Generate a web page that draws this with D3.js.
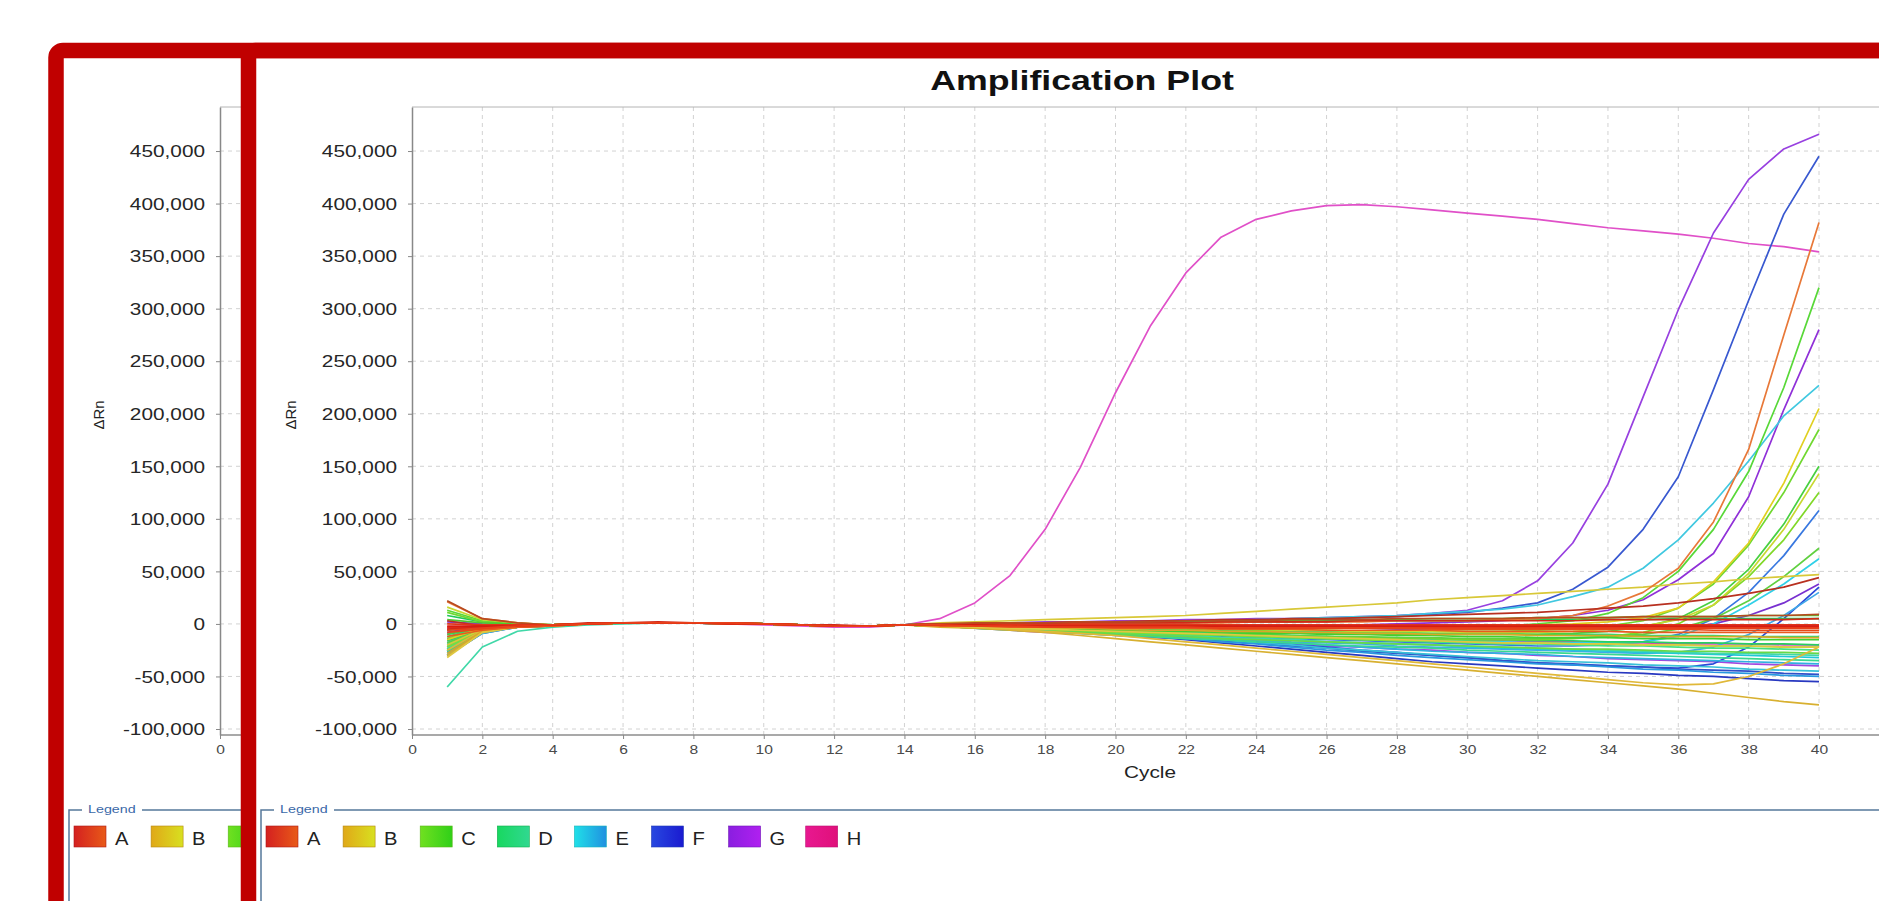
<!DOCTYPE html>
<html>
<head>
<meta charset="utf-8">
<script src="https://cdnjs.cloudflare.com/ajax/libs/d3/7.8.5/d3.min.js"></script>
<style>
    body { margin: 0; background: #fff; }
    svg { display: block; }
    text { font-family: "Liberation Sans", Arial, sans-serif; }
</style>
</head>
<body>
<script>
// ΔRn per well, in thousands, cycles 1..40
var cycles = [1,2,3,4,5,6,7,8,9,10,11,12,13,14,15,16,17,18,19,20,21,22,23,24,25,26,27,28,29,30,31,32,33,34,35,36,37,38,39,40];

var rowA = [
    [21,5,1, -1,0,1,1,1,1,0,-1,-2,-2,-1, -1,-1,0,0,0,1, 1,1,1,2,2,2,2,3,3,3, 4,5,8,17,30,53,97,166,275,382],
    [3,-2,-2, -1,0,1,1,1,1,0,-1,-2,-2,-1, 0,0,1,1,2,2, 3,3,4,4,5,5,6,7,8,9, 10,11,13,15,17,20,24,29,35,44],
    [-3,-4,-3, -1,0,1,1,1,0,0,-1,-2,-2,-1, -1,-1,-1,-2,-2,-2, -2,-2,-2,-3,-3,-3,-3,-3,-3,-3, -3,-3,-3,-3,-3,-3,-3,-3,-3,-3],
    [-8,-5,-3, -2,0,1,1,1,1,0,-1,-2,-2,-1, -1,-2,-2,-2,-3,-3, -3,-3,-3,-4,-4,-4,-4,-4,-5,-5, -5,-5,-5,-5,-5,-5,-6,-6,-6,-6],
    [-5,-3,-2, -1,1,1,2,1,1,0,-1,-1,-2,-1, 0,0,0,1,1,1, 1,1,2,2,2,2,3,3,3,3, 3,3,3,4,4,4,4,4,4,5],
    [-12,-6,-3, -2,0,1,1,1,0,0,-1,-2,-2,-1, -2,-2,-3,-3,-3,-4, -4,-4,-5,-5,-5,-6,-6,-6,-6,-7, -7,-7,-7,-7,-8,-8,-8,-8,-8,-8],
    [22,5,1, -1,0,1,1,1,1,0,-1,-2,-2,-1, 0,1,1,1,2,2, 2,3,3,3,4,4,4,5,5,5, 5,6,6,6,7,7,7,8,8,9],
    [0,-1,-1, -1,0,1,1,1,1,0,-1,-2,-2,-1, -1,-1,-1,-1,-1,-1, -1,-1,-1,-1,-1,-1,-1,-1,-1,-1, -1,-1,-1,-1,-1,-1,-1,-1,-1,-1],
    [-2,-2,-2, -1,0,1,1,1,0,0,-1,-2,-2,-1, -1,-1,-2,-2,-2,-2, -2,-2,-2,-2,-2,-2,-2,-2,-2,-2, -2,-2,-2,-2,-2,-2,-2,-2,-2,-2],
    [-6,-4,-2, -1,0,1,1,1,1,0,-1,-2,-2,-1, -1,-2,-2,-3,-3,-3, -3,-3,-4,-4,-4,-4,-4,-4,-4,-4, -4,-4,-4,-4,-4,-4,-4,-4,-4,-4]
];
var rowB = [
    [-20,-5,-2, -1,0,1,1,1,1,0,-1,-2,-2,-1, 1,2,3,4,5,6, 7,8,10,12,14,16,18,20,23,25, 27,29,31,33,35,38,40,43,45,47],
    [-30,-8,-3, -2,0,1,1,1,0,0,-1,-2,-2,-1, -3,-4,-6,-8,-11,-14, -17,-20,-23,-26,-29,-32,-35,-38,-41,-44, -47,-50,-53,-56,-59,-62,-66,-70,-74,-77],
    [-25,-6,-3, -1,0,1,1,1,1,0,-1,-2,-2,-1, -2,-3,-5,-7,-9,-11, -14,-17,-20,-23,-26,-29,-32,-35,-38,-41, -44,-47,-50,-53,-56,-58,-57,-50,-38,-22],
    [-15,-4,-2, -1,0,1,1,1,1,0,-1,-2,-2,-1, -1,-1,-1,-2,-2,-2, -2,-3,-3,-3,-3,-3,-3,-3,-3,-2, -2,-1,0,2,6,15,40,77,134,205],
    [16,4,1, -1,0,1,1,1,1,0,-1,-2,-2,-1, -1,-1,-2,-2,-3,-3, -4,-4,-5,-5,-6,-6,-7,-7,-7,-8, -8,-8,-7,-5,-2,4,18,48,90,143],
    [-28,-7,-3, -1,0,1,1,1,1,0,-1,-2,-2,-1, -1,-2,-3,-4,-4,-5, -6,-6,-7,-7,-8,-8,-9,-9,-10,-10, -10,-11,-11,-11,-12,-12,-12,-12,-13,-13],
    [-32,-8,-3, -2,0,1,1,1,0,0,-1,-2,-2,-1, -2,-3,-4,-5,-6,-7, -8,-9,-10,-11,-12,-13,-14,-15,-16,-17, -18,-18,-19,-19,-20,-20,-21,-21,-22,-22]
];
var rowC = [
    [13,3,0, -1,0,1,1,1,1,0,-1,-2,-2,-1, -1,-1,-2,-2,-2,-3, -3,-3,-4,-4,-4,-4,-4,-4,-4,-3, -2,0,3,10,25,50,90,145,225,320],
    [11,2,0, -1,0,1,1,1,1,0,-1,-2,-2,-1, -1,-2,-2,-3,-3,-4, -4,-5,-5,-6,-6,-6,-7,-7,-7,-7, -7,-6,-5,-2,3,15,38,75,125,185],
    [-10,-3,-1, -1,0,1,1,1,1,0,-1,-2,-2,-1, -1,-2,-3,-4,-4,-5, -6,-6,-7,-8,-8,-9,-9,-10,-10,-10, -10,-10,-9,-7,-3,5,22,52,95,150],
    [-14,-4,-2, -1,0,1,1,1,1,0,-1,-2,-2,-1, -2,-3,-4,-5,-6,-7, -8,-9,-10,-11,-12,-12,-13,-14,-14,-15, -15,-15,-14,-12,-8,0,18,45,80,125],
    [-18,-5,-2, -1,0,1,1,1,1,0,-1,-2,-2,-1, -2,-3,-4,-5,-6,-7, -8,-9,-10,-10,-11,-12,-12,-13,-13,-14, -14,-14,-13,-12,-10,-5,5,22,45,72],
    [-6,-2,-1, -1,0,1,1,1,1,0,-1,-2,-2,-1, -1,-2,-3,-4,-5,-6, -7,-7,-8,-9,-9,-10,-10,-11,-11,-12, -12,-13,-13,-13,-14,-14,-14,-15,-15,-15],
    [-22,-6,-2, -1,0,1,1,1,1,0,-1,-2,-2,-1, -2,-3,-4,-5,-7,-8, -9,-10,-11,-12,-13,-14,-15,-16,-16,-17, -18,-18,-19,-19,-20,-20,-21,-21,-22,-22],
    [4,1,0, -1,0,1,1,1,1,0,-1,-2,-2,-1, 0,0,1,1,1,2, 2,2,3,3,3,4,4,4,5,5, 5,6,6,6,7,7,7,8,8,8],
    [-20,-5,-2, -1,0,1,1,1,1,0,-1,-2,-2,-1, -2,-4,-5,-7,-8,-10, -11,-12,-14,-15,-16,-17,-18,-19,-20,-21, -22,-23,-24,-24,-25,-26,-26,-27,-27,-28]
];
var rowD = [
    [-60,-22,-7, -3,-1,0,1,1,0,0,-1,-2,-2,-1, -2,-3,-4,-6,-7,-9, -10,-11,-13,-14,-15,-17,-18,-19,-20,-21, -22,-23,-24,-25,-26,-27,-28,-28,-29,-30],
    [-12,-3,-1, -1,0,1,1,1,1,0,-1,-2,-2,-1, -1,-2,-2,-3,-4,-4, -5,-5,-6,-6,-7,-7,-8,-8,-9,-9, -9,-10,-10,-10,-11,-11,-11,-12,-12,-12],
    [-16,-4,-2, -1,0,1,1,1,1,0,-1,-2,-2,-1, -2,-3,-4,-5,-6,-7, -8,-9,-10,-10,-11,-12,-13,-13,-14,-15, -15,-16,-16,-17,-17,-18,-18,-19,-19,-20],
    [-26,-7,-3, -2,0,1,1,1,0,0,-1,-2,-2,-1, -2,-4,-6,-7,-9,-11, -12,-14,-15,-17,-18,-20,-21,-22,-23,-25, -26,-27,-28,-29,-30,-31,-32,-33,-34,-35],
    [8,2,0, -1,0,1,1,1,1,0,-1,-2,-2,-1, 0,0,0,1,1,1, 1,2,2,2,2,3,3,3,3,3, 4,4,4,4,4,5,5,5,5,5],
    [-24,-6,-2, -1,0,1,1,1,1,0,-1,-2,-2,-1, -1,-2,-4,-5,-6,-8, -9,-10,-11,-12,-13,-14,-15,-16,-17,-18, -19,-19,-20,-21,-21,-22,-23,-23,-24,-25]
];
var rowE = [
    [-22,-6,-2, -1,0,1,1,1,1,0,-1,-2,-2,-1, 0,0,1,1,1,2, 2,3,3,4,5,6,7,8,10,12, 14,18,26,35,53,80,115,155,198,227],
    [-18,-5,-2, -1,0,1,1,1,1,0,-1,-2,-2,-1, -1,-2,-3,-4,-5,-6, -7,-8,-9,-10,-11,-12,-13,-14,-15,-16, -17,-18,-18,-18,-17,-12,0,18,38,62],
    [-28,-8,-3, -2,0,1,1,1,0,0,-1,-2,-2,-1, -2,-3,-4,-5,-7,-8, -10,-12,-14,-16,-18,-20,-22,-24,-26,-27, -28,-29,-31,-32,-33,-34,-35,-36,-37,-38],
    [-30,-9,-3, -2,0,1,1,1,0,0,-1,-2,-2,-1, -2,-3,-4,-6,-7,-9, -11,-13,-15,-18,-20,-23,-25,-27,-29,-31, -33,-35,-36,-37,-39,-40,-41,-43,-44,-45],
    [-26,-8,-3, -2,0,1,1,1,0,0,-1,-2,-2,-1, -2,-3,-5,-6,-8,-10, -12,-14,-17,-19,-22,-25,-27,-30,-32,-34, -36,-38,-39,-41,-43,-44,-46,-47,-49,-50],
    [-20,-6,-2, -1,0,1,1,1,1,0,-1,-2,-2,-1, -2,-4,-5,-7,-8,-10, -11,-13,-14,-15,-17,-18,-19,-21,-22,-23, -24,-25,-26,-27,-28,-27,-22,-10,8,30],
    [-24,-7,-2, -1,0,1,1,1,1,0,-1,-2,-2,-1, -2,-3,-5,-6,-7,-9, -10,-11,-13,-14,-15,-17,-18,-19,-20,-22, -23,-24,-25,-26,-27,-28,-29,-30,-31,-32]
];
var rowF = [
    [-18,-5,-2, -1,0,1,1,1,1,0,-1,-2,-2,-1, 0,0,1,1,1,2, 2,2,3,3,4,5,6,7,9,11, 15,20,33,54,90,140,223,308,390,445],
    [-22,-6,-2, -1,0,1,1,1,1,0,-1,-2,-2,-1, -2,-3,-4,-6,-7,-8, -9,-11,-12,-13,-14,-15,-16,-17,-18,-19, -20,-21,-21,-20,-17,-10,5,30,65,108],
    [-26,-7,-3, -2,0,1,1,1,0,0,-1,-2,-2,-1, -2,-3,-4,-5,-7,-8, -10,-12,-15,-17,-20,-22,-25,-27,-30,-32, -35,-37,-39,-40,-41,-42,-38,-22,5,35],
    [-24,-7,-3, -2,0,1,1,1,0,0,-1,-2,-2,-1, -2,-3,-4,-6,-7,-9, -11,-13,-16,-18,-21,-23,-26,-28,-30,-32, -35,-37,-38,-40,-41,-43,-44,-45,-47,-48],
    [-30,-9,-3, -2,0,1,1,1,0,0,-1,-2,-2,-1, -2,-3,-5,-6,-8,-10, -12,-15,-18,-21,-24,-27,-30,-33,-36,-38, -40,-42,-44,-46,-47,-49,-50,-52,-54,-55],
    [-6,-2,-1, -1,0,1,1,1,1,0,-1,-2,-2,-1, -1,-1,-1,-2,-2,-2, -2,-2,-2,-2,-3,-3,-3,-3,-3,-3, -3,-3,-3,-3,-3,-3,-3,-3,-3,-3]
];
var rowG = [
    [-10,-3,-1, -1,0,1,1,1,1,0,-1,-2,-2,-1, 0,1,1,2,2,3, 3,4,4,5,5,6,7,8,10,13, 22,41,77,133,216,299,372,423,452,466],
    [-14,-4,-2, -1,0,1,1,1,1,0,-1,-2,-2,-1, -1,-1,-1,-2,-2,-2, -2,-2,-2,-2,-2,-1,-1,0,1,2, 3,5,8,13,23,42,67,121,204,280],
    [-8,-2,-1, -1,0,1,1,1,1,0,-1,-2,-2,-1, -1,-1,-2,-2,-2,-3, -3,-3,-3,-4,-4,-4,-4,-5,-5,-5, -5,-5,-5,-5,-5,-4,0,8,20,38],
    [-20,-6,-2, -1,0,1,1,1,1,0,-1,-2,-2,-1, -2,-4,-6,-8,-9,-11, -13,-14,-16,-18,-19,-21,-22,-24,-25,-27, -28,-30,-31,-33,-34,-35,-36,-38,-39,-40],
    [2,0,-1, -1,0,1,1,1,1,0,-1,-2,-2,-1, 0,0,-1,-1,-1,-1, -1,-1,-1,-1,-2,-2,-2,-2,-2,-2, -2,-2,-2,-2,-2,-2,-2,-2,-2,-2]
];
var rowH = [
    [-5,-2,-1, -1,0,1,1,1,0,-1,-2,-3,-3,-1, 5,20,46,90,149,220, 284,334,368,385,393,398,399,397,394,391, 388,385,381,377,374,371,367,362,359,354],
    [-4,-1,-1, -1,0,1,1,1,1,0,-1,-2,-2,-1, -1,-1,-2,-2,-2,-2, -2,-2,-3,-3,-3,-3,-3,-3,-3,-3, -3,-4,-4,-4,-4,-4,-4,-4,-4,-4],
    [-16,-5,-2, -1,0,1,1,1,1,0,-1,-2,-2,-1, -2,-3,-4,-5,-6,-7, -8,-9,-10,-11,-12,-13,-14,-15,-15,-16, -16,-17,-17,-18,-18,-19,-19,-19,-20,-20]
];

var rowNames = ["A", "B", "C", "D", "E", "F", "G", "H"];
var yTicks = [-100, -50, 0, 50, 100, 150, 200, 250, 300, 350, 400, 450];
var xTicks = [0, 2, 4, 6, 8, 10, 12, 14, 16, 18, 20, 22, 24, 26, 28, 30, 32, 34, 36, 38, 40];

var rows = { A: rowA, B: rowB, C: rowC, D: rowD, E: rowE, F: rowF, G: rowG, H: rowH };

// line colours per well, and legend swatch gradients
var lineColors = {
    A: ["#e87838", "#b83020", "#e02a14", "#e84818", "#d02818", "#e85a20", "#b84a20", "#e03418", "#d81c10", "#e8401a"],
    B: ["#d8c838", "#d8b030", "#e0b838", "#e0d020", "#c8d830", "#d8a828", "#e0c840"],
    C: ["#58d838", "#70d830", "#48d040", "#80d828", "#60d040", "#40d030", "#78e038", "#50c830", "#68d848"],
    D: ["#40d8a8", "#30d870", "#28d060", "#38d890", "#20c858", "#48e080"],
    E: ["#40c8e0", "#30d0e8", "#30b0e0", "#38c0d8", "#2898e0", "#40a8e8", "#20c8d8"],
    F: ["#3858d0", "#3878e0", "#2848d8", "#3050c8", "#2838c0", "#4060d8"],
    G: ["#9840e0", "#9030d8", "#7830d0", "#a048e0", "#8838d8"],
    H: ["#e050c8", "#e040a0", "#d848b8"]
};
var legendStops = {
    A: ["#d42020", "#e85a18"], B: ["#e0a818", "#d8e020"], C: ["#70e020", "#30d018"], D: ["#18d860", "#30d890"],
    E: ["#20e0e8", "#2090e0"], F: ["#2848e0", "#1a1ad0"], G: ["#8a1ee0", "#b020f0"], H: ["#e81890", "#e0107a"]
};

var width = 1879, height = 901;
var sx = 1.3; // the screenshot is stretched horizontally

var svg = d3.select("body").append("svg")
    .attr("width", width)
    .attr("height", height);
var defs = svg.append("defs");

rowNames.forEach(function (r) {
    var gr = defs.append("linearGradient").attr("id", "grad" + r);
    gr.append("stop").attr("offset", "0%").attr("stop-color", legendStops[r][0]);
    gr.append("stop").attr("offset", "100%").attr("stop-color", legendStops[r][1]);
});
defs.append("clipPath").attr("id", "clipBack")
    .append("rect").attr("x", 64).attr("y", 0).attr("width", 177).attr("height", height);
defs.append("clipPath").attr("id", "clipFront")
    .append("rect").attr("x", 256).attr("y", 0).attr("width", width - 256).attr("height", height);

function stretchText(sel, x, y, s) {
    sel.attr("transform", "translate(" + x + "," + y + ") scale(" + s + ",1)");
}

function drawChart(g) {
    var x = d3.scaleLinear().domain([0, 40]).range([412, 1819]);
    var y = d3.scaleLinear().domain([-105.7, 491.9]).range([735, 107]);
    var right = 1900;

    // grid
    g.selectAll("line.hgrid").data(yTicks).enter().append("line")
        .attr("class", "hgrid")
        .attr("x1", x(0)).attr("x2", right)
        .attr("y1", function (d) { return y(d); })
        .attr("y2", function (d) { return y(d); })
        .attr("stroke", "#d2d2d2").attr("stroke-dasharray", "4,4");
    g.selectAll("line.vgrid").data(xTicks.slice(1).concat([42])).enter().append("line")
        .attr("class", "vgrid")
        .attr("x1", function (d) { return x(d); })
        .attr("x2", function (d) { return x(d); })
        .attr("y1", y.range()[1]).attr("y2", y.range()[0])
        .attr("stroke", "#d2d2d2").attr("stroke-dasharray", "4,4");

    // plot frame
    g.append("line").attr("x1", x(0)).attr("x2", right).attr("y1", 107).attr("y2", 107)
        .attr("stroke", "#b4b4b4");
    g.append("line").attr("x1", x(0)).attr("x2", right).attr("y1", 735).attr("y2", 735)
        .attr("stroke", "#8c8c8c").attr("stroke-width", 1.5);

    // curves
    var line = d3.line()
        .x(function (d, i) { return x(cycles[i]); })
        .y(function (d) { return y(d); });
    rowNames.slice().reverse().forEach(function (r) {
        rows[r].forEach(function (vals, i) {
            g.append("path")
                .attr("d", line(vals))
                .attr("fill", "none")
                .attr("stroke", lineColors[r][i])
                .attr("stroke-width", 1.7)
                .attr("stroke-linejoin", "round");
        });
    });

    // axes
    var yAxis = g.append("g").attr("transform", "translate(" + x(0) + ",0)")
        .call(d3.axisLeft(y).tickValues(yTicks).tickSize(4).tickSizeOuter(0)
            .tickFormat(function (d) { return d3.format(",")(d * 1000).replace("\u2212", "-"); }));
    yAxis.select(".domain").attr("stroke", "#888").attr("stroke-width", 1.5);
    yAxis.selectAll(".tick line").attr("stroke", "#888");
    yAxis.selectAll(".tick text")
        .attr("x", -15 / sx).attr("dy", "0.36em")
        .attr("transform", "scale(" + sx + ",1)")
        .attr("fill", "#262626").style("font-size", "16px")
        .style("font-family", "'Liberation Sans', Arial, sans-serif");

    var xAxis = g.append("g").attr("transform", "translate(0,735)")
        .call(d3.axisBottom(x).tickValues(xTicks).tickSize(4).tickSizeOuter(0).tickPadding(6));
    xAxis.select(".domain").remove();
    xAxis.selectAll(".tick line").attr("stroke", "#888");
    xAxis.selectAll(".tick text")
        .attr("transform", "scale(" + sx + ",1)")
        .attr("fill", "#4a4a4a").style("font-size", "12px")
        .style("font-family", "'Liberation Sans', Arial, sans-serif");

    // titles
    g.append("text").text("Amplification Plot")
        .attr("text-anchor", "middle").attr("font-weight", "bold")
        .style("font-size", "27.5px").attr("fill", "#111")
        .call(stretchText, 1082, 90, sx);
    g.append("text").text("Cycle")
        .attr("text-anchor", "middle").style("font-size", "16px").attr("fill", "#222")
        .call(stretchText, 1150, 778, sx);
    g.append("text").text("ΔRn")
        .attr("text-anchor", "middle").style("font-size", "15px").attr("fill", "#222")
        .attr("transform", "translate(296,415) rotate(-90)");

    // legend
    g.append("path")
        .attr("d", "M261," + height + "V810H274M334,810H" + right)
        .attr("fill", "none").attr("stroke", "#56789a").attr("stroke-width", 1.5);
    g.append("text").text("Legend")
        .style("font-size", "11px").attr("fill", "#3a68a8")
        .call(stretchText, 280, 813, sx);
    var item = g.selectAll("g.item").data(rowNames).enter().append("g")
        .attr("class", "item")
        .attr("transform", function (d, i) { return "translate(" + (266 + i * 77.1) + ",826)"; });
    item.append("rect")
        .attr("width", 32).attr("height", 21)
        .attr("fill", function (d) { return "url(#grad" + d + ")"; })
        .attr("stroke", function (d) { return d3.color(legendStops[d][0]).darker(0.6); })
        .attr("stroke-width", 0.6);
    item.append("text").text(function (d) { return d; })
        .style("font-size", "18px").attr("fill", "#222")
        .attr("transform", "translate(41,19) scale(1.12,1)");
}

// the panel behind: same chart, shifted left and covered by the front one
var back = svg.append("g").attr("clip-path", "url(#clipBack)")
    .append("g").attr("transform", "translate(-192,0)");
drawChart(back);
back.selectAll("text").each(function () {
    if (this.getBoundingClientRect().left > 241) d3.select(this).remove();
});
drawChart(svg.append("g").attr("clip-path", "url(#clipFront)"));

// red highlight frames
[56, 248.5].forEach(function (fx) {
    svg.append("rect")
        .attr("x", fx).attr("y", 50.5)
        .attr("width", width + 100).attr("height", height + 100)
        .attr("rx", 7)
        .attr("fill", "none")
        .attr("stroke", "#c00000")
        .attr("stroke-width", 15.5);
});
</script>
</body>
</html>
